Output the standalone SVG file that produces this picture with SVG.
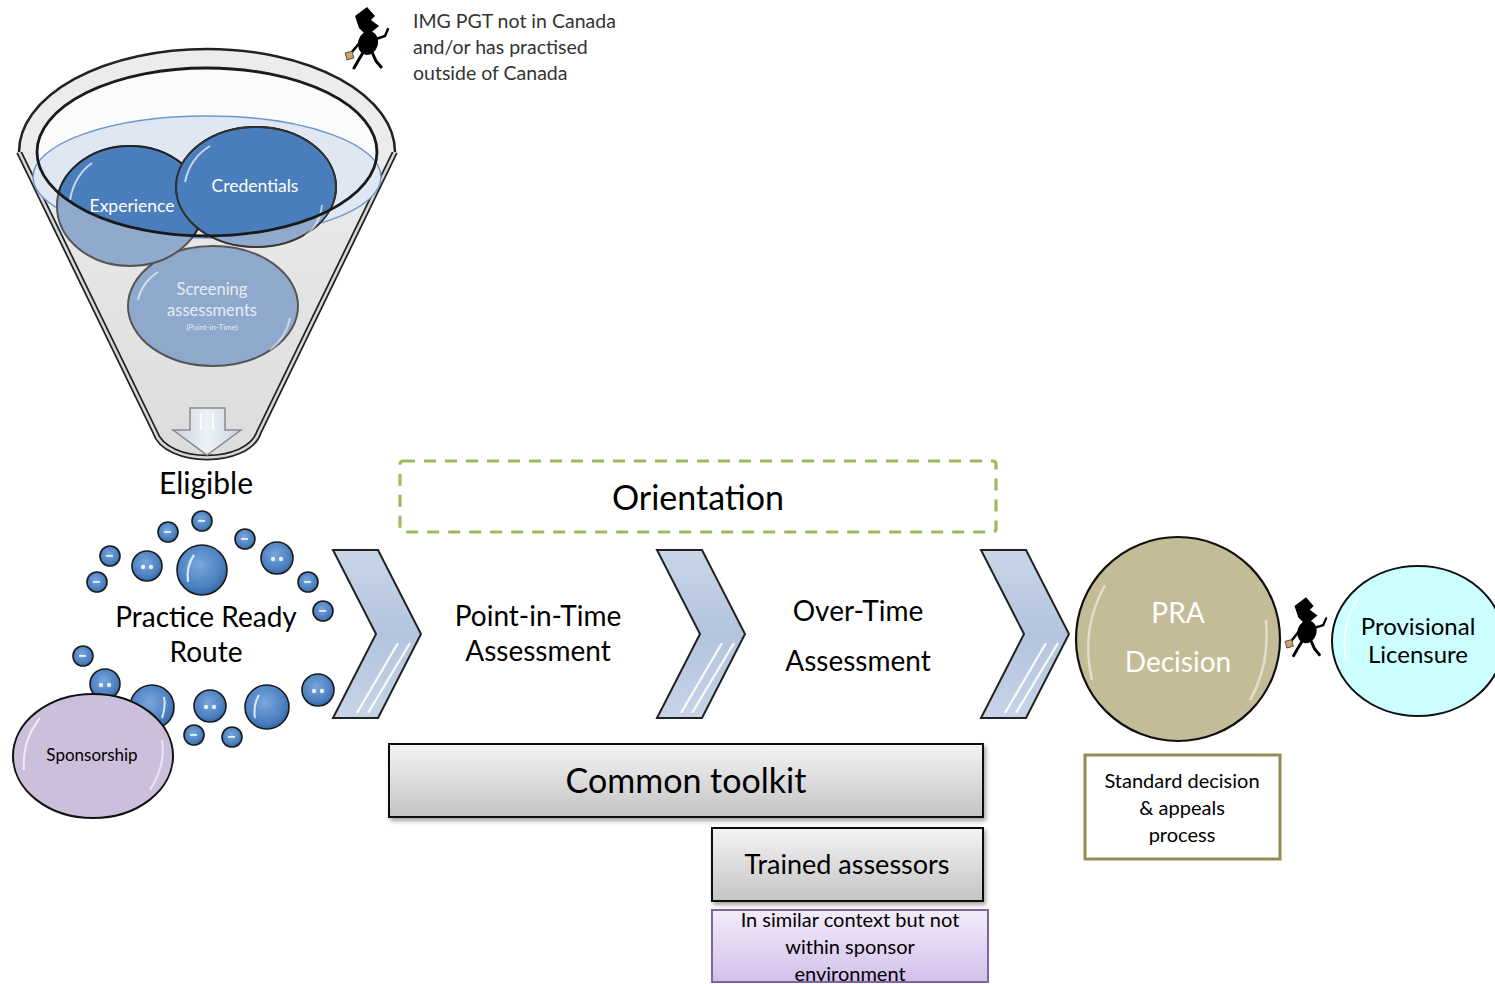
<svg xmlns="http://www.w3.org/2000/svg" width="1495" height="984" viewBox="0 0 1495 984">
  <defs>
    <style>
      .t { font-family: Lato, "Liberation Sans", sans-serif; fill: #000; text-anchor: middle; }
      .tw { font-family: Lato, "Liberation Sans", sans-serif; fill: #fff; text-anchor: middle; }
      .bub { fill: url(#bubGrad); stroke: #1a1a1a; stroke-width: 1.6; }
      .hl { fill: #fff; opacity: 0.85; }
      .chev { fill: url(#chevGrad); stroke: #222; stroke-width: 2; stroke-linejoin: miter; }
      .stripe { stroke: #fff; stroke-width: 2.2; fill: none; opacity: 0.9; }
      .box { fill: url(#greyGrad); stroke: #111; stroke-width: 2; filter: url(#shadow); }
      .cap { font-family: Lato, "Liberation Sans", sans-serif; font-size: 19.5px; fill: #333; }
    </style>
    <linearGradient id="coneGrad" x1="0" y1="0" x2="0" y2="1">
      <stop offset="0" stop-color="#f0f0f0"/>
      <stop offset="1" stop-color="#dcdcdc"/>
    </linearGradient>
    <radialGradient id="bubGrad" cx="0.45" cy="0.4" r="0.65">
      <stop offset="0" stop-color="#7aa6dc"/>
      <stop offset="0.7" stop-color="#4a7fc0"/>
      <stop offset="1" stop-color="#2f5f9e"/>
    </radialGradient>
    <linearGradient id="chevGrad" x1="0" y1="0" x2="0" y2="1">
      <stop offset="0" stop-color="#c9d5e8"/>
      <stop offset="0.5" stop-color="#b3c4de"/>
      <stop offset="1" stop-color="#c7d4e8"/>
    </linearGradient>
    <linearGradient id="greyGrad" x1="0" y1="0" x2="0" y2="1">
      <stop offset="0" stop-color="#f4f4f4"/>
      <stop offset="1" stop-color="#c4c4c4"/>
    </linearGradient>
    <linearGradient id="lilacGrad" x1="0" y1="0" x2="0" y2="1">
      <stop offset="0" stop-color="#f3ecfa"/>
      <stop offset="1" stop-color="#d3bfea"/>
    </linearGradient>
    <linearGradient id="arrowGrad" x1="0" y1="0" x2="1" y2="0">
      <stop offset="0" stop-color="#c8d3e2"/>
      <stop offset="0.5" stop-color="#eef2f8"/>
      <stop offset="1" stop-color="#c8d3e2"/>
    </linearGradient>
    <filter id="shadow" x="-5%" y="-10%" width="115%" height="130%">
      <feDropShadow dx="2" dy="3" stdDeviation="2" flood-color="#000" flood-opacity="0.35"/>
    </filter>
    <clipPath id="rimClip">
      <ellipse cx="207" cy="152" rx="170" ry="84"/>
    </clipPath>
    <!-- walking figure with briefcase -->
    <symbol id="walker" viewBox="0 0 48 64">
      <polygon points="12,10 24,1 32,10 28,14 36,20 24,30 16,22" fill="#000"/>
      <ellipse cx="25" cy="37" rx="10" ry="12" transform="rotate(15 25 37)" fill="#000"/>
      <path d="M21,45 L15,55 L11,62 M29,46 L33,55 L38,61" stroke="#000" stroke-width="3" fill="none" stroke-linecap="round"/>
      <path d="M18,35 L9,46" stroke="#000" stroke-width="2.6" fill="none" stroke-linecap="round"/>
      <path d="M33,33 L42,30 L45,23" stroke="#000" stroke-width="2.4" fill="none" stroke-linecap="round"/>
      <rect x="3" y="46" width="7" height="7" fill="#c9a27a" stroke="#6b4f33" stroke-width="1" transform="rotate(-15 6.5 49.5)"/>
    </symbol>
  </defs>

  <rect width="1495" height="984" fill="#fff"/>

  <!-- Funnel -->
  <g id="funnel">
    <path d="M19,152 L155,432 C166,466 248,466 259,432 L395,152 A188,103 0 0 0 19,152 Z" fill="url(#coneGrad)"/>
    <path d="M19,152 L155,432 C166,466 248,466 259,432 L395,152" fill="none" stroke="#222" stroke-width="6"/>
    <path d="M19,152 L155,432 C166,466 248,466 259,432 L395,152" fill="none" stroke="#d8d8d8" stroke-width="2.5"/>
    <path d="M19,152 A188,103 0 0 1 395,152" fill="#ececec"/>
    <path d="M19,152 A188,103 0 0 1 395,152" fill="none" stroke="#222" stroke-width="2.5"/>
    <ellipse cx="207" cy="152" rx="170" ry="84" fill="#fbfbfb"/>
    <!-- liquid surface -->
    <ellipse cx="207" cy="177" rx="174" ry="61" fill="#dfe7f2" stroke="#6d98cc" stroke-width="1.5"/>
    <!-- down arrow -->
    <path d="M190,408 H225 V430 H241 L207,455 L173,430 H190 Z" fill="url(#arrowGrad)" stroke="#8a8a8a" stroke-width="1.5"/>
    <path d="M201,413 V430 M213,413 V430" stroke="#fff" stroke-width="2" opacity="0.8"/>
  </g>

  <g id="funnel-bubbles">
    <!-- lower translucent parts -->
    <ellipse cx="213" cy="306" rx="85" ry="60" fill="#8fa9cc" stroke="#555" stroke-width="2"/>
    <ellipse cx="130" cy="206" rx="73" ry="60" fill="#8faacd" stroke="#555" stroke-width="2"/>
    <ellipse cx="256" cy="187" rx="80" ry="60" fill="#8faacd" stroke="#555" stroke-width="2"/>
    <!-- upper parts inside the rim -->
    <g clip-path="url(#rimClip)">
      <ellipse cx="130" cy="206" rx="73" ry="60" fill="#4a7dbb" stroke="#222" stroke-width="2"/>
      <ellipse cx="256" cy="187" rx="80" ry="60" fill="#4a7dbb" stroke="#222" stroke-width="2"/>
    </g>
    <ellipse cx="256" cy="187" rx="80" ry="60" fill="none" stroke="#333" stroke-width="1.5"/>
    <path d="M70,200 Q74,176 92,163" stroke="#fff" stroke-width="2" fill="none" opacity="0.7"/>
    <path d="M185,182 Q190,158 210,146" stroke="#fff" stroke-width="2" fill="none" opacity="0.7"/>
    <path d="M322,205 Q320,225 305,236" stroke="#fff" stroke-width="2" fill="none" opacity="0.6"/>
    <path d="M138,300 Q142,282 158,272" stroke="#fff" stroke-width="2" fill="none" opacity="0.6"/>
    <path d="M290,318 Q286,338 270,350" stroke="#fff" stroke-width="2" fill="none" opacity="0.5"/>
    <text class="tw" x="132" y="212" font-size="17.5">Experience</text>
    <text class="tw" x="255" y="192" font-size="17.5">Credentials</text>
    <text class="tw" x="212" y="295" font-size="16.5" fill-opacity="0.8">Screening</text>
    <text class="tw" x="212" y="316" font-size="16.5" fill-opacity="0.8">assessments</text>
    <text class="tw" x="212" y="330" font-size="8" fill-opacity="0.8">(Point-in-Time)</text>
    <!-- front edge of inner rim -->
    <ellipse cx="207" cy="152" rx="170" ry="84" fill="none" stroke="#1a1a1a" stroke-width="2.8"/>
  </g>

  <!-- Entry figure and caption -->
  <g id="applicant">
    <use href="#walker" x="343" y="6" width="48" height="64"/>
    <text class="cap" x="413" y="28">IMG PGT not in Canada</text>
    <text class="cap" x="413" y="54">and/or has practised</text>
    <text class="cap" x="413" y="80">outside of Canada</text>
  </g>

  <g id="eligible">
    <text class="t" x="206" y="494" font-size="30">Eligible</text>
  </g>

  <!-- Practice Ready Route -->
  <g id="practice-ready-route">
    <circle class="bub" cx="202" cy="521" r="10"/>
    <circle class="bub" cx="168" cy="532" r="10"/>
    <circle class="bub" cx="245" cy="539" r="10"/>
    <circle class="bub" cx="110" cy="556" r="10"/>
    <circle class="bub" cx="147" cy="566" r="15"/>
    <circle class="bub" cx="202" cy="570" r="25"/>
    <circle class="bub" cx="277" cy="558" r="16"/>
    <circle class="bub" cx="97" cy="582" r="10"/>
    <circle class="bub" cx="308" cy="582" r="10"/>
    <circle class="bub" cx="323" cy="611" r="10"/>
    <circle class="bub" cx="83" cy="656" r="10"/>
    <circle class="bub" cx="105" cy="684" r="15"/>
    <circle class="bub" cx="152" cy="707" r="22"/>
    <circle class="bub" cx="210" cy="706" r="16"/>
    <circle class="bub" cx="267" cy="707" r="22"/>
    <circle class="bub" cx="318" cy="690" r="16"/>
    <circle class="bub" cx="194" cy="735" r="10"/>
    <circle class="bub" cx="232" cy="737" r="10"/>
    <!-- highlights -->
    <g class="hl">
      <rect x="198" y="520" width="7" height="1.8"/><rect x="164" y="531" width="7" height="1.8"/>
      <rect x="241" y="538" width="7" height="1.8"/><rect x="106" y="555" width="7" height="1.8"/>
      <rect x="93" y="581" width="7" height="1.8"/><rect x="304" y="581" width="7" height="1.8"/>
      <rect x="319" y="610" width="7" height="1.8"/><rect x="79" y="655" width="7" height="1.8"/>
      <rect x="190" y="734" width="7" height="1.8"/><rect x="228" y="736" width="7" height="1.8"/>
      <circle cx="143" cy="567" r="2.2"/><circle cx="151" cy="567" r="2.2"/>
      <circle cx="273" cy="559" r="2.2"/><circle cx="281" cy="559" r="2.2"/>
      <circle cx="101" cy="685" r="2.2"/><circle cx="109" cy="685" r="2.2"/>
      <circle cx="206" cy="707" r="2.2"/><circle cx="214" cy="707" r="2.2"/>
      <circle cx="314" cy="691" r="2.2"/><circle cx="322" cy="691" r="2.2"/>
    </g>
    <path d="M188,582 Q186,566 194,555" stroke="#fff" stroke-width="2.2" fill="none" opacity="0.8"/>
    <path d="M255,718 Q253,705 259,695" stroke="#fff" stroke-width="2" fill="none" opacity="0.8"/>
    <path d="M162,718 Q166,706 164,697" stroke="#fff" stroke-width="2" fill="none" opacity="0.8"/>
    <text class="t" x="206" y="627" font-size="28">Practice Ready</text>
    <text class="t" x="206" y="662" font-size="28">Route</text>
  </g>

  <g id="sponsorship">
    <ellipse cx="93" cy="756" rx="80" ry="62" fill="#cbbfdb" stroke="#111" stroke-width="2"/>
    <path d="M24,770 Q22,740 40,718" stroke="#fff" stroke-width="2" fill="none" opacity="0.7"/>
    <path d="M162,740 Q166,765 150,790" stroke="#fff" stroke-width="2" fill="none" opacity="0.6"/>
    <text class="t" x="92" y="761" font-size="17">Sponsorship</text>
  </g>

  <!-- Process chevrons -->
  <g id="connectors">
    <g id="chevron-1">
      <polygon class="chev" points="333,550 378,550 421,634 378,718 333,718 376,634"/>
      <path class="stripe" d="M398,643 L357,713 M410,643 L368,713"/>
    </g>
    <g id="chevron-2">
      <polygon class="chev" points="657,550 702,550 745,634 702,718 657,718 700,634"/>
      <path class="stripe" d="M722,643 L681,713 M734,643 L692,713"/>
    </g>
    <g id="chevron-3">
      <polygon class="chev" points="981,550 1026,550 1069,634 1026,718 981,718 1024,634"/>
      <path class="stripe" d="M1046,643 L1005,713 M1058,643 L1016,713"/>
    </g>
  </g>

  <g id="orientation">
    <rect x="400" y="461" width="596" height="71" rx="3" fill="none" stroke="#9bbb59" stroke-width="3.2" stroke-dasharray="12 9"/>
    <text class="t" x="698" y="510" font-size="34">Orientation</text>
  </g>

  <g id="point-in-time">
    <text class="t" x="538" y="626" font-size="28">Point-in-Time</text>
    <text class="t" x="538" y="661" font-size="28">Assessment</text>
  </g>

  <g id="over-time">
    <text class="t" x="858" y="621" font-size="28">Over-Time</text>
    <text class="t" x="858" y="671" font-size="28">Assessment</text>
  </g>

  <g id="common-toolkit">
    <rect class="box" x="389" y="744" width="594" height="73"/>
    <text class="t" x="686" y="793" font-size="34">Common toolkit</text>
  </g>

  <g id="trained-assessors">
    <rect class="box" x="712" y="828" width="271" height="73"/>
    <text class="t" x="847" y="874" font-size="27">Trained assessors</text>
  </g>

  <g id="assessor-context">
    <rect x="712" y="910" width="276" height="72" fill="url(#lilacGrad)" stroke="#8064a2" stroke-width="2"/>
    <text class="t" x="850" y="927" font-size="20">In similar context but not</text>
    <text class="t" x="850" y="954" font-size="20">within sponsor</text>
    <text class="t" x="850" y="981" font-size="20">environment</text>
  </g>

  <g id="pra-decision">
    <circle cx="1178" cy="639" r="102" fill="#c4bc96" stroke="#111" stroke-width="2.2"/>
    <path d="M1092,680 Q1080,630 1105,585" stroke="#fff" stroke-width="2.5" fill="none" opacity="0.5"/>
    <path d="M1266,620 Q1270,665 1250,700" stroke="#fff" stroke-width="2.5" fill="none" opacity="0.5"/>
    <text class="tw" x="1178" y="623" font-size="28">PRA</text>
    <text class="tw" x="1178" y="672" font-size="28">Decision</text>
  </g>

  <g id="standard-decision">
    <rect x="1085" y="755" width="195" height="104" fill="#fff" stroke="#948a54" stroke-width="3"/>
    <text class="t" x="1182" y="788" font-size="20">Standard decision</text>
    <text class="t" x="1182" y="815" font-size="20">&amp; appeals</text>
    <text class="t" x="1182" y="842" font-size="20">process</text>
  </g>

  <g id="licensed-figure">
    <use href="#walker" x="1283" y="596" width="46" height="62"/>
  </g>

  <g id="provisional-licensure">
    <ellipse cx="1418" cy="641" rx="86" ry="75" fill="#ccffff" stroke="#111" stroke-width="2"/>
    <path d="M1346,660 Q1340,625 1358,598" stroke="#fff" stroke-width="2" fill="none" opacity="0.8"/>
    <text class="t" x="1418" y="635" font-size="24">Provisional</text>
    <text class="t" x="1418" y="663" font-size="24">Licensure</text>
  </g>
</svg>
